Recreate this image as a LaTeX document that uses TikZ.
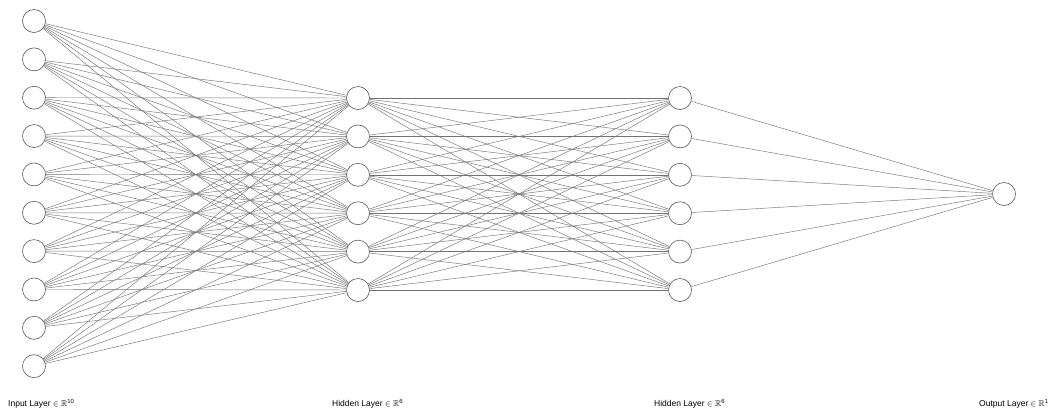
\documentclass[tikz,border=0pt]{standalone}
\usepackage{amssymb}
\usepackage{fontspec}
\setmainfont{Liberation Sans}
\usepackage{tikz}
\usetikzlibrary{positioning}

\begin{document}
\begin{tikzpicture}[
  x=1pt, y=-1pt,
  neuron/.style={circle, draw=black!65, fill=white, line width=0.6pt, minimum size=23pt, inner sep=0pt},
  wire/.style={draw=black!55, line width=0.45pt},
  lyr/.style={anchor=base west, font=\fontsize{8.5}{10}\selectfont, inner sep=0pt}
]
  \useasboundingbox (0,0) rectangle (1048,413);

  % neurons
  \foreach \i in {1,...,10}
    \node[neuron] (in\i) at (34, {21+(\i-1)*38.35}) {};
  \foreach \i in {1,...,6} {
    \node[neuron] (ha\i) at (358, {98+(\i-1)*38.4}) {};
    \node[neuron] (hb\i) at (680, {98+(\i-1)*38.4}) {};
  }
  \node[neuron] (out) at (1004, 194) {};

  % connections
  \foreach \i in {1,...,10}
    \foreach \j in {1,...,6}
      \draw[wire] (in\i) -- (ha\j);
  \foreach \i in {1,...,6}
    \foreach \j in {1,...,6}
      \draw[wire] (ha\i) -- (hb\j);
  \foreach \i in {1,...,6}
    \draw[wire] (hb\i) -- (out);

  % layer names
  \node[lyr] (lin) at (8, 406) {Input Layer $\in \mathbb{R}$\textsuperscript{10}};
  \node[lyr] (lha) at (332, 406) {Hidden Layer $\in \mathbb{R}$\textsuperscript{6}};
  \node[lyr] (lhb) at (654, 406) {Hidden Layer $\in \mathbb{R}$\textsuperscript{6}};
  \node[lyr] (lout) at (979, 406) {Output Layer $\in \mathbb{R}$\textsuperscript{1}};
\end{tikzpicture}
\end{document}
